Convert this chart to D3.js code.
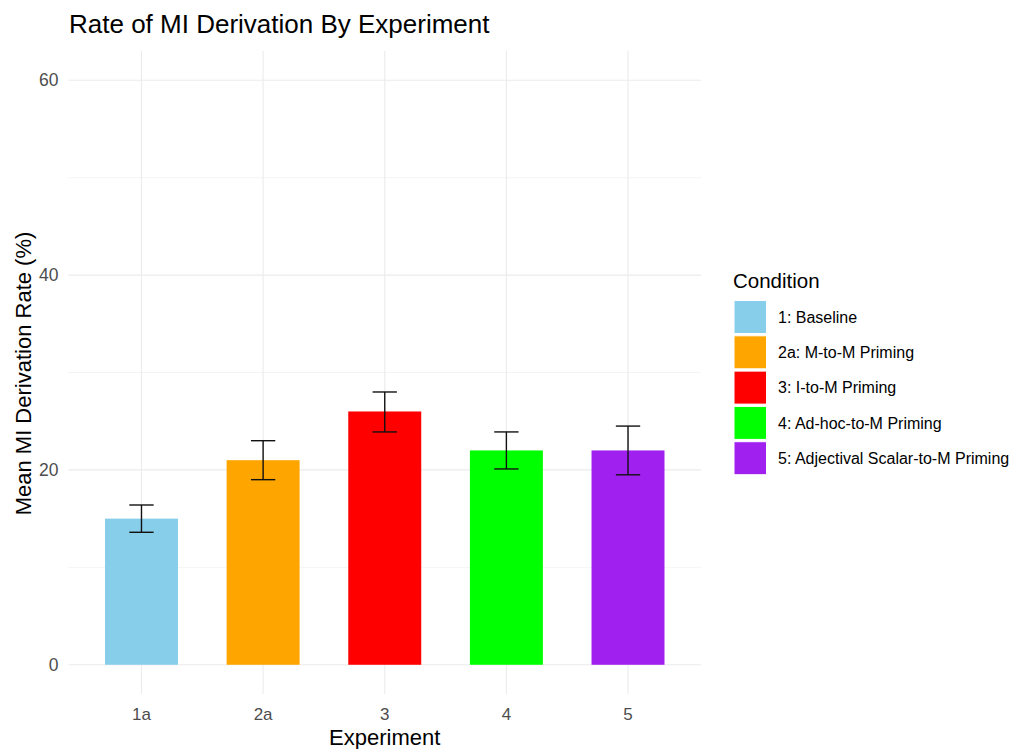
<!DOCTYPE html>
<html><head><meta charset="utf-8">
<script src="https://cdn.jsdelivr.net/npm/d3@7"></script>
<style>body{margin:0;background:#fff}svg{display:block}text{font-family:"Liberation Sans",Arial,sans-serif}</style>
</head><body>
<svg id="chart" width="1013" height="749"></svg>
<script>
const experiments = ["1a","2a","3","4","5"];
const conditions = ["1: Baseline","2a: M-to-M Priming","3: I-to-M Priming","4: Ad-hoc-to-M Priming","5: Adjectival Scalar-to-M Priming"];
const means = [15, 21, 26, 22, 22];
const errLow = [13.6, 19.0, 23.9, 20.1, 19.5];
const errHigh = [16.4, 23.0, 28.0, 23.9, 24.5];
const colors = ["#87CEEB","#FFA500","#FF0000","#00FF00","#A020F0"];
const yTicks = [0, 20, 40, 60];
const yMinor = [10, 30, 50];

const svg = d3.select("#chart");
const P = {left: 68.5, right: 701, top: 51, bottom: 694};

const x = d3.scaleBand().domain(experiments).range([P.left, P.right]).paddingInner(0).paddingOuter(0.1);
const y = d3.scaleLinear().domain([-3, 63]).range([P.bottom, P.top]);
const step = x.step();
const bw = step * 0.6;
const ew = step * 0.2;
const cx = d => x(d) + step / 2;

const grid = svg.append("g");
grid.selectAll(".minor").data(yMinor).join("line")
  .attr("x1", P.left).attr("x2", P.right).attr("y1", d => y(d)).attr("y2", d => y(d))
  .attr("stroke", "#ebebeb").attr("stroke-width", 0.55);
grid.selectAll(".majY").data(yTicks).join("line")
  .attr("x1", P.left).attr("x2", P.right).attr("y1", d => y(d)).attr("y2", d => y(d))
  .attr("stroke", "#ebebeb").attr("stroke-width", 1.1);
grid.selectAll(".majX").data(experiments).join("line")
  .attr("x1", d => cx(d)).attr("x2", d => cx(d)).attr("y1", P.top).attr("y2", P.bottom)
  .attr("stroke", "#ebebeb").attr("stroke-width", 1.1);

svg.append("g").selectAll("rect").data(experiments).join("rect")
  .attr("x", d => cx(d) - bw / 2).attr("width", bw)
  .attr("y", (d, i) => y(means[i])).attr("height", (d, i) => y(0) - y(means[i]))
  .attr("fill", (d, i) => colors[i]);

const eb = svg.append("g").attr("stroke", "#111").attr("stroke-width", 1.4);
experiments.forEach((d, i) => {
  const c = cx(d);
  eb.append("line").attr("x1", c).attr("x2", c).attr("y1", y(errLow[i])).attr("y2", y(errHigh[i]));
  eb.append("line").attr("x1", c - ew / 2).attr("x2", c + ew / 2).attr("y1", y(errLow[i])).attr("y2", y(errLow[i]));
  eb.append("line").attr("x1", c - ew / 2).attr("x2", c + ew / 2).attr("y1", y(errHigh[i])).attr("y2", y(errHigh[i]));
});

const yAxis = d3.axisLeft(y).tickValues(yTicks).tickSize(0).tickPadding(10);
const gy = svg.append("g").attr("transform", `translate(${P.left},0)`).call(yAxis);
gy.select(".domain").remove();
gy.selectAll("text").attr("fill", "#4d4d4d").style("font-size", "17.5px");

const xAxis = d3.axisBottom(x).tickSize(0).tickPadding(0);
const gx = svg.append("g").attr("transform", `translate(0,${P.bottom})`).call(xAxis);
gx.select(".domain").remove();
gx.selectAll("text").attr("fill", "#4d4d4d").style("font-size", "17px").attr("y", 26).attr("dy", 0);

svg.append("text").attr("x", 69).attr("y", 33).attr("font-size", 26).attr("fill", "#000")
  .text("Rate of MI Derivation By Experiment");
svg.append("text").attr("x", (P.left + P.right) / 2).attr("y", 745).attr("text-anchor", "middle")
  .attr("font-size", 22).attr("fill", "#000").text("Experiment");
svg.append("text").attr("transform", `translate(31,373.5) rotate(-90)`)
  .attr("text-anchor", "middle").attr("font-size", 22).attr("fill", "#000").text("Mean MI Derivation Rate (%)");

const lg = svg.append("g");
lg.append("text").attr("x", 733).attr("y", 288).attr("font-size", 20.5).attr("fill", "#000").text("Condition");
conditions.forEach((c, i) => {
  const ky = 300.5 + i * 35.3;
  lg.append("rect").attr("x", 734).attr("y", ky).attr("width", 32.5).attr("height", 33)
    .attr("fill", colors[i]).attr("stroke", "#fff").attr("stroke-width", 1);
  lg.append("text").attr("x", 778).attr("y", ky + 16.5).attr("dy", "0.35em").attr("font-size", 16)
    .attr("fill", "#000").text(c);
});
</script>
</body></html>
